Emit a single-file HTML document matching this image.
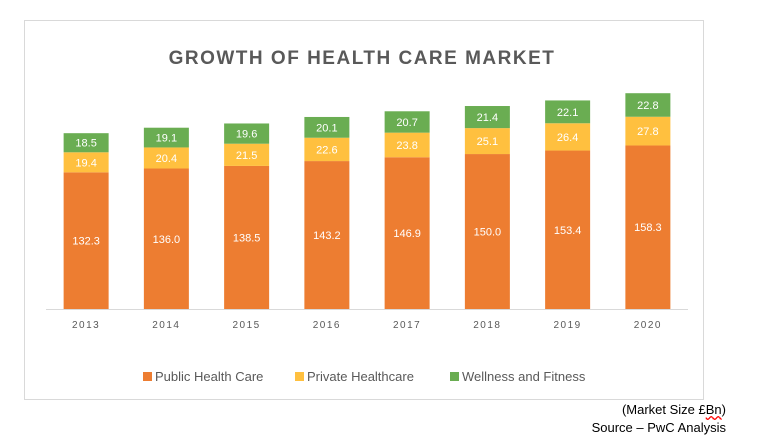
<!DOCTYPE html>
<html><head><meta charset="utf-8"><style>
body{margin:0;background:#fff;width:760px;height:444px;overflow:hidden;font-family:"Liberation Sans",sans-serif}
svg{position:absolute;left:0;top:0}
.note{position:absolute;right:34px;font-size:13px;color:#000;text-align:right}
</style></head><body>
<svg width="760" height="444" id="chart">
<rect x="24.5" y="20.5" width="679" height="379" fill="#fff" stroke="#d9d9d9"/>
<text x="362" y="64" text-anchor="middle" font-size="19" font-weight="bold" fill="#595959" letter-spacing="1.5">GROWTH OF HEALTH CARE MARKET</text>
<line x1="46" y1="309.5" x2="688" y2="309.5" stroke="#d9d9d9"/>
<g id="bars"></g>
<g font-size="13" fill="#595959">
<rect x="143" y="372" width="9" height="9" fill="#ed7d31"/>
<text x="155" y="381">Public Health Care</text>
<rect x="295" y="372" width="9" height="9" fill="#ffc03f"/>
<text x="307" y="381">Private Healthcare</text>
<rect x="450" y="372" width="9" height="9" fill="#6aad52"/>
<text x="462" y="381">Wellness and Fitness</text>
</g>
</svg>
<div class="note" style="top:402px">(Market Size £<span style="text-decoration:underline wavy red">Bn</span>)</div>
<div class="note" style="top:420px">Source – PwC Analysis</div>
<script>
const years=["2013","2014","2015","2016","2017","2018","2019","2020"];
const publicCare=[132.3,136.0,138.5,143.2,146.9,150.0,153.4,158.3];
const privateCare=[19.4,20.4,21.5,22.6,23.8,25.1,26.4,27.8];
const wellness=[18.5,19.1,19.6,20.1,20.7,21.4,22.1,22.8];
const series=[[publicCare,"#ed7d31","public"],[privateCare,"#ffc03f","private"],[wellness,"#6aad52","wellness"]];
const base=309, k=1.033, x0=46, step=80.25, bw=45;
const y=v=>base-v*k;
const xc=i=>x0+step*(i+0.5);
const ns="http://www.w3.org/2000/svg";
const g=document.getElementById('bars');
years.forEach((yr,i)=>{
  let cum=0;
  series.forEach(([arr,col,nm])=>{
    const v=arr[i];
    const r=document.createElementNS(ns,'rect');
    r.setAttribute('x',xc(i)-bw/2);r.setAttribute('y',y(cum+v));
    r.setAttribute('width',bw);r.setAttribute('height',v*k);r.setAttribute('fill',col);
    
    
    g.appendChild(r);
    const t=document.createElementNS(ns,'text');
    t.setAttribute('x',xc(i));t.setAttribute('y',y(cum+v/2)+4);
    t.setAttribute('text-anchor','middle');t.setAttribute('font-size','11');t.setAttribute('fill','#fff');
    t.textContent=v.toFixed(1);
    
    
    g.appendChild(t);
    cum+=v;
  });
  const t=document.createElementNS(ns,'text');
  t.setAttribute('x',xc(i));t.setAttribute('y',328);t.setAttribute('text-anchor','middle');
  t.setAttribute('font-size','10');t.setAttribute('fill','#595959');t.setAttribute('letter-spacing','1.5');
  t.textContent=yr;
  
  
  g.appendChild(t);
});
</script>
</body></html>
